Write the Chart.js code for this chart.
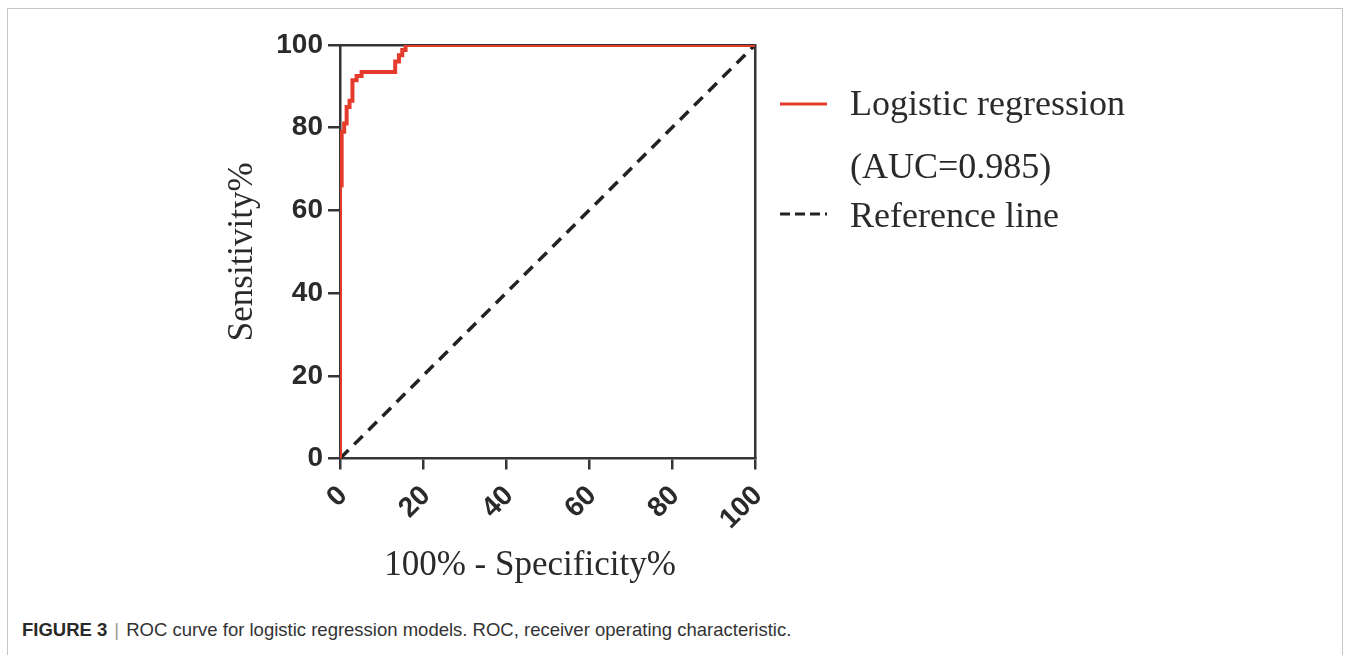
<!DOCTYPE html>
<html>
<head>
<meta charset="utf-8">
<title>ROC curve</title>
<script src="https://cdn.jsdelivr.net/npm/chart.js@4/dist/chart.umd.min.js"></script>
<style>
  html, body { margin: 0; padding: 0; background: #fff; }
  body { width: 1348px; height: 655px; position: relative; overflow: hidden; }
  .frame {
    position: absolute; left: 7px; top: 8px; width: 1336px; height: 700px;
    border: 1.5px solid #c6c6c6; box-sizing: border-box;
  }
  .chart-box { position: absolute; left: 0; top: 0; width: 1348px; height: 600px; }
  .caption {
    position: absolute; left: 22px; top: 620px;
    font: 18.5px "Liberation Sans", Arial, sans-serif; line-height: 20px; color: #333;
    white-space: nowrap;
  }
  .caption b { color: #2a2a2a; }
  .caption .bar { color: #9a9a9a; margin: 0 7px; }
</style>
</head>
<body>
<div class="frame"></div>
<div class="chart-box"><canvas id="roc" width="1348" height="600"></canvas></div>
<div class="caption"><b>FIGURE 3</b><span class="bar">|</span>ROC curve for logistic regression models. ROC, receiver operating characteristic.</div>

<script>
// ---------- DATA ----------
// 100% - specificity (x) and sensitivity (y)
const fprValues = [0, 0, 0.4, 0.4, 1.0, 1.0, 1.6, 1.6, 2.3, 2.3, 3.0, 3.0, 4.0, 4.0, 5.2, 5.2, 13.3, 13.3, 14.2, 14.2, 15.0, 15.0, 15.8, 15.8, 100];
const tprValues = [0, 66, 66, 79, 79, 81, 81, 85, 85, 86.5, 86.5, 91.5, 91.5, 92.5, 92.5, 93.5, 93.5, 96, 96, 97.5, 97.5, 98.8, 98.8, 100, 100];
// chance line
const refX = [0, 100];
const refY = [0, 100];
// axis ticks
const xTicks = [0, 20, 40, 60, 80, 100];
const yTicks = [0, 20, 40, 60, 80, 100];
// legend text
const seriesNames = ["Logistic regression", "Reference line"];
const aucLabel = "(AUC=0.985)";

const ink = "#2b2929";
const axisColor = "#363434";
const red = "#e53b2c";

function toPoints(xs, ys) {
  return xs.map((x, i) => ({ x: x, y: ys[i] }));
}

// legend drawn beside the plot (rows are not evenly spaced in the original)
const sideLegend = {
  id: "sideLegend",
  afterDraw(chart) {
    const ctx = chart.ctx;
    const rows = [
      { ds: 0, text: seriesNames[0], lineY: 104, base: 115 },
      { ds: null, text: aucLabel, base: 178 },
      { ds: 1, text: seriesNames[1], lineY: 214, base: 227 }
    ];
    ctx.save();
    rows.forEach(function (r) {
      if (r.ds !== null) {
        const d = chart.data.datasets[r.ds];
        ctx.beginPath();
        ctx.strokeStyle = d.borderColor;
        ctx.lineWidth = 3;
        ctx.setLineDash(d.borderDash ? [10, 5] : []);
        ctx.moveTo(780, r.lineY);
        ctx.lineTo(827, r.lineY);
        ctx.stroke();
      }
      ctx.setLineDash([]);
      ctx.fillStyle = ink;
      ctx.font = '36px "Liberation Serif", "Times New Roman", serif';
      ctx.textBaseline = "alphabetic";
      ctx.textAlign = "left";
      ctx.fillText(r.text, 850, r.base);
    });
    ctx.restore();
  }
};

const tickFont = { family: '"Liberation Sans", Arial, sans-serif', size: 28, weight: "bold" };
const titleFont = { family: '"Liberation Serif", "Times New Roman", serif', size: 35, weight: "normal" };

const config = {
  type: "scatter",
  data: {
    datasets: [
      {
        label: seriesNames[0],
        data: toPoints(fprValues, tprValues),
        showLine: true,
        borderColor: red,
        backgroundColor: red,
        borderWidth: 4,
        pointRadius: 0,
        tension: 0
      },
      {
        label: seriesNames[1],
        data: toPoints(refX, refY),
        showLine: true,
        borderColor: "#222",
        backgroundColor: "#222",
        borderWidth: 3.5,
        borderDash: [12, 8],
        pointRadius: 0
      }
    ]
  },
  options: {
    responsive: false,
    animation: false,
    events: [],
    layout: { padding: { left: 222, top: 45, right: 593, bottom: 13 } },
    plugins: { legend: { display: false }, tooltip: { enabled: false } },
    scales: {
      x: {
        type: "linear", position: "bottom", min: 0, max: 100,
        afterBuildTicks: s => { s.ticks = xTicks.map(v => ({ value: v })); },
        afterFit: s => { s.height = 128.5; },
        ticks: { font: tickFont, color: ink, minRotation: 45, maxRotation: 45, padding: 10, labelOffset: 3 },
        grid: { drawOnChartArea: false, drawTicks: true, tickLength: 11, color: axisColor, lineWidth: 2.5 },
        border: { display: true, color: axisColor, width: 2.5 },
        // trailing spaces nudge the centred title left, as in the original
        title: { display: true, text: "100% - Specificity%\u00a0\u00a0\u00a0\u00a0", font: titleFont, color: ink, padding: 0 }
      },
      y: {
        type: "linear", position: "left", min: 0, max: 100,
        afterBuildTicks: s => { s.ticks = yTicks.map(v => ({ value: v })); },
        afterFit: s => { s.width = 118; },
        ticks: { font: tickFont, color: ink, padding: 5 },
        grid: { drawOnChartArea: false, drawTicks: true, tickLength: 12, color: axisColor, lineWidth: 2.5 },
        border: { display: true, color: axisColor, width: 2.5 },
        title: { display: true, text: "Sensitivity%", font: titleFont, color: ink, padding: 0 }
      },
      xTop: {
        type: "linear", position: "top", min: 0, max: 100,
        afterFit: s => { s.height = 0; },
        ticks: { display: false },
        grid: { drawOnChartArea: false, drawTicks: false },
        border: { display: true, color: axisColor, width: 2.5 }
      },
      yRight: {
        type: "linear", position: "right", min: 0, max: 100,
        afterFit: s => { s.width = 0; },
        ticks: { display: false },
        grid: { drawOnChartArea: false, drawTicks: false },
        border: { display: true, color: axisColor, width: 2.5 }
      }
    }
  },
  plugins: [sideLegend]
};

try {
  new Chart(document.getElementById("roc"), config);
} catch (err) {
  console.error("Error creating Chart:", err);
}
</script>
</body>
</html>
